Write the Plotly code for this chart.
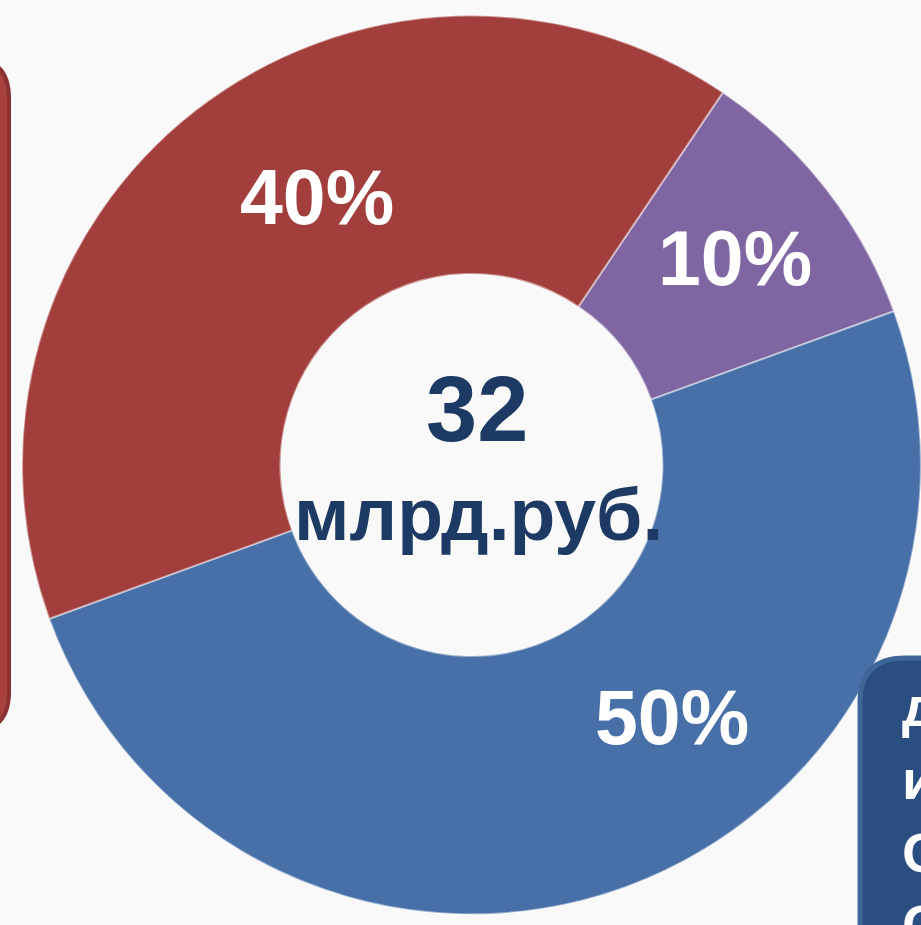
import plotly.graph_objects as go

# ---- data ----
labels = ["Purple share", "Blue share", "Red share"]
values = [10, 50, 40]
slice_colors = ["#7F65A1", "#4770A8", "#A23E3C"]
center_value = "32"
center_unit = "млрд.руб."
side_letters = ["д", "и", "С", "С"]

W, H = 921, 925

fig = go.Figure()
fig.add_trace(go.Pie(
    labels=labels,
    values=values,
    hole=0.425,
    sort=False,
    direction="clockwise",
    rotation=34,
    marker=dict(colors=slice_colors, line=dict(color="rgba(255,255,255,0.45)", width=2)),
    textinfo="none",
    hoverinfo="label+percent",
    showlegend=False,
    domain=dict(x=[0.024, 1.0], y=[0.0108, 0.9838]),
))

def px(x):
    return x / W

def py(y):
    return (H - y) / H

# percent labels
pct_pos = {"Purple share": (735, 258), "Blue share": (672, 717), "Red share": (317, 197)}
annotations = []
for lab, v in zip(labels, values):
    x, y = pct_pos[lab]
    annotations.append(dict(
        x=px(x), y=py(y), xref="paper", yref="paper", showarrow=False,
        text=f"<b>{v}%</b>", xanchor="center", yanchor="middle",
        font=dict(family="Liberation Sans, Arial, sans-serif", size=77, color="#FFFFFF"),
    ))

annotations.append(dict(
    x=px(477), y=py(409), xref="paper", yref="paper", showarrow=False,
    text=f"<b>{center_value}</b>", xanchor="center", yanchor="middle",
    font=dict(family="Liberation Sans, Arial, sans-serif", size=92, color="#1C3A63"),
))
annotations.append(dict(
    x=px(478), y=py(514), xref="paper", yref="paper", showarrow=False,
    text=f"<b>{center_unit}</b>", xanchor="center", yanchor="middle",
    font=dict(family="Liberation Sans, Arial, sans-serif", size=75, color="#1C3A63"),
))
annotations.append(dict(
    x=px(900), y=py(815), xref="paper", yref="paper", showarrow=False,
    text="<br>".join(f"<b>{c}</b>" for c in side_letters), xanchor="left", yanchor="middle",
    align="left",
    font=dict(family="Liberation Sans, Arial, sans-serif", size=56, color="#FFFFFF"),
))

# side boxes (partially off-canvas)
def rr_left(x0, y0, x1, y1, r):
    return (f"M {px(x0)},{py(y0)} L {px(x1 - r)},{py(y0)} "
            f"Q {px(x1)},{py(y0)} {px(x1)},{py(y0 + r)} "
            f"L {px(x1)},{py(y1 - r)} Q {px(x1)},{py(y1)} {px(x1 - r)},{py(y1)} "
            f"L {px(x0)},{py(y1)} Z")

def rr_topleft(x0, y0, x1, y1, r):
    return (f"M {px(x0)},{py(y1)} L {px(x0)},{py(y0 + r)} "
            f"Q {px(x0)},{py(y0)} {px(x0 + r)},{py(y0)} "
            f"L {px(x1)},{py(y0)} L {px(x1)},{py(y1)} Z")

shapes = [
    dict(type="path", xref="paper", yref="paper", path=rr_left(-200, 58, 9, 732, 40),
         fillcolor="#A8403E", line=dict(color="#8B3131", width=4), layer="above"),
    dict(type="path", xref="paper", yref="paper", path=rr_topleft(860, 658, 1100, 1100, 45),
         fillcolor="#2A4E80", line=dict(color="#3E6699", width=5), layer="above"),
]

fig.update_layout(
    width=W, height=H,
    margin=dict(l=0, r=0, t=0, b=0),
    paper_bgcolor="#F9F9F9",
    plot_bgcolor="#F9F9F9",
    annotations=annotations,
    shapes=shapes,
)

fig.write_html(
    "out.html",
    config={"displayModeBar": False},
    post_script="document.body.style.margin='0';document.body.style.overflow='hidden';"
                "document.body.style.background='#F9F9F9';",
)
